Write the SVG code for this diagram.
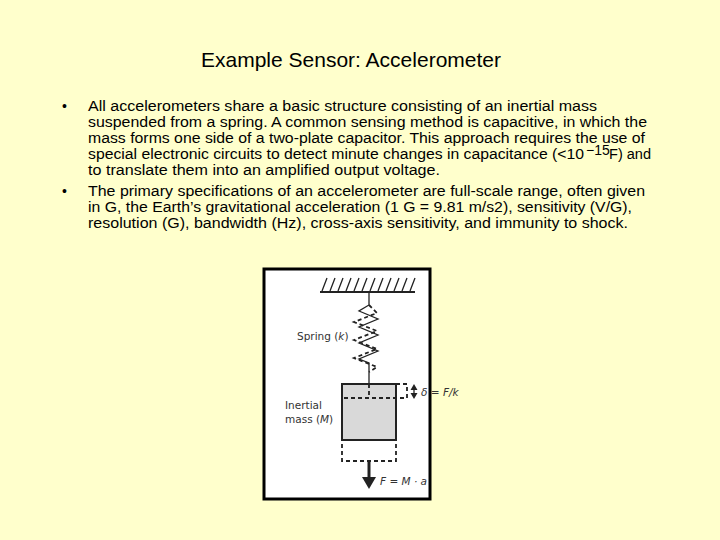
<svg xmlns="http://www.w3.org/2000/svg" width="720" height="540" viewBox="0 0 720 540">
<defs>
<style>
.t{font-family:"Liberation Sans",Arial,sans-serif;font-size:14px;fill:#000}
.f{font-family:"DejaVu Sans",sans-serif;font-size:10.5px;fill:#333}
.d{fill:none;stroke:#222;stroke-width:1.8;stroke-dasharray:4,3}
.s{fill:none;stroke:#222;stroke-width:1.3}
</style>
</defs>
<rect width="720" height="540" fill="#FFFFCC"/>
<text x="351" y="67" text-anchor="middle" font-family="Liberation Sans,Arial,sans-serif" font-size="21">Example Sensor: Accelerometer</text>
<g id="text">
<text class="t" x="62" y="111">•</text>
<text class="t" x="88" y="111" textLength="509" lengthAdjust="spacingAndGlyphs">All accelerometers share a basic structure consisting of an inertial mass</text>
<text class="t" x="88" y="127" textLength="559" lengthAdjust="spacingAndGlyphs">suspended from a spring.  A common sensing method is capacitive, in which the</text>
<text class="t" x="88" y="143" textLength="557" lengthAdjust="spacingAndGlyphs">mass forms one side of a two-plate capacitor. This approach requires the use of</text>
<text class="t" x="88" y="159" textLength="496" lengthAdjust="spacingAndGlyphs">special electronic circuits to detect minute changes in capacitance (&lt;10</text>
<text class="t" x="586" y="155" font-size="9">−15</text>
<text class="t" x="609" y="159" textLength="42" lengthAdjust="spacingAndGlyphs">F) and</text>
<text class="t" x="88" y="175" textLength="352" lengthAdjust="spacingAndGlyphs">to translate them into an amplified output voltage.</text>
<text class="t" x="62" y="196">•</text>
<text class="t" x="88" y="196" textLength="557" lengthAdjust="spacingAndGlyphs">The primary specifications of an accelerometer are full-scale range, often given</text>
<text class="t" x="88" y="212" textLength="544" lengthAdjust="spacingAndGlyphs">in G, the Earth’s gravitational acceleration (1 G = 9.81 m/s2), sensitivity (V/G),</text>
<text class="t" x="88" y="228" textLength="540" lengthAdjust="spacingAndGlyphs">resolution (G), bandwidth (Hz), cross-axis sensitivity, and immunity to shock.</text>
</g>
<g id="figure">
<rect x="264" y="269" width="166" height="230" fill="#fff" stroke="#000" stroke-width="3"/>
<line x1="320" y1="292" x2="415" y2="292" stroke="#222" stroke-width="2"/>
<path class="s" d="M322,291l5,-13M330,291l5,-13M338,291l5,-13M346,291l5,-13M354,291l5,-13M362,291l5,-13M370,291l5,-13M378,291l5,-13M386,291l5,-13M394,291l5,-13M402,291l5,-13M410,291l5,-13"/>
<path class="s" d="M369,292V305L359,311L378,319L359,327L378,335L359,343L378,351L359,359L369,363V384"/>
<path class="d" stroke-width="1.2" d="M369,305L377,313L354,322L377,331L354,340L377,349L354,358L377,367L369,372"/>
<rect x="342" y="384" width="54" height="56" fill="#d9d9d9" stroke="#222" stroke-width="2"/>
<path class="d" d="M396,384H407V398H342M369,384V398"/>
<path class="d" d="M342,444V461H396V444"/>
<line x1="369" y1="461" x2="369" y2="478" stroke="#222" stroke-width="3"/>
<path d="M362,477H376L369,489z" fill="#222"/>
<line x1="414" y1="389" x2="414" y2="394" stroke="#222" stroke-width="1.3"/>
<path d="M410.5,390L414,384L417.5,390zM410.5,393L414,399L417.5,393z" fill="#222"/>
<text class="f" x="297" y="340">Spring (<tspan font-style="italic">k</tspan>)</text>
<text class="f" x="285" y="409">Inertial</text>
<text class="f" x="285" y="423">mass (<tspan font-style="italic">M</tspan>)</text>
<text class="f" x="421" y="396" font-style="italic">δ = F/k</text>
<text class="f" x="380" y="485" font-style="italic">F = M · a</text>
</g>
</svg>
